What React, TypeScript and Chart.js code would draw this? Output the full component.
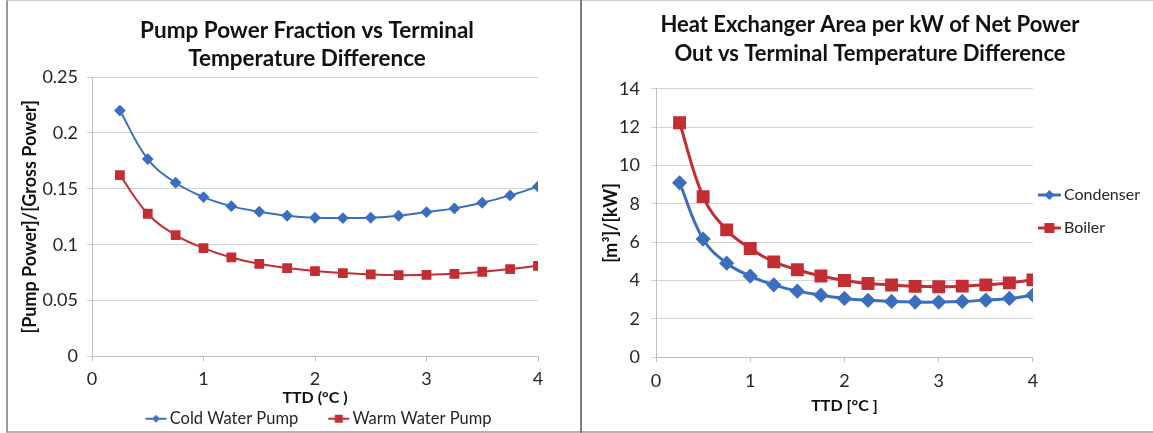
import React, { useEffect, useRef } from 'react';
import { Chart, registerables } from 'chart.js';

Chart.register(...registerables);

// ---- data ----
const ttd = [0.25, 0.5, 0.75, 1, 1.25, 1.5, 1.75, 2, 2.25, 2.5, 2.75, 3, 3.25, 3.5, 3.75, 4];
const coldWaterPump = [0.220, 0.1766, 0.1554, 0.1426, 0.1345, 0.1295, 0.1259, 0.1241, 0.1238, 0.1241, 0.1259, 0.1292, 0.1325, 0.1375, 0.1441, 0.1521];
const warmWaterPump = [0.1623, 0.1277, 0.1086, 0.0970, 0.0886, 0.0829, 0.0791, 0.0764, 0.0746, 0.0734, 0.0728, 0.0731, 0.0740, 0.0758, 0.0782, 0.0811];
const condenser = [9.10, 6.16, 4.90, 4.23, 3.77, 3.44, 3.23, 3.06, 2.96, 2.90, 2.87, 2.87, 2.90, 2.97, 3.06, 3.23];
const boiler = [12.24, 8.38, 6.64, 5.67, 4.97, 4.56, 4.23, 4.00, 3.84, 3.76, 3.69, 3.67, 3.70, 3.77, 3.87, 4.03];
const pumpYTickLabels = ['0', '0.05', '0.1', '0.15', '0.2', '0.25'];
const areaYTickLabels = ['0', '2', '4', '6', '8', '10', '12', '14'];
const xTickLabels = ['0', '1', '2', '3', '4'];

const BLUE = '#3C6EC0';
const RED = '#C32E32';
const FONT = 'Lato, Calibri, "Open Sans", sans-serif';
const TEXT = '#262626';

// shifts the title / legend boxes of a chart by a few pixels after layout
const shiftPlugin = {
  id: 'shift',
  afterLayout(chart: any, _args: any, opts: any) {
    const l = chart.legend;
    if (l) {
      l.left += opts.legendX || 0;
      l.right += opts.legendX || 0;
      l.top += opts.legendY || 0;
      l.bottom += opts.legendY || 0;
    }
    const t = chart.titleBlock;
    if (t) {
      t.left += opts.titleX || 0;
      t.right += opts.titleX || 0;
    }
  },
};

function makeIcon(color: string, shape: string, markerR: number, lineW: number, lineLen: number, bw: number, off: number) {
  const half = Math.max(off - bw / 2 + lineLen, bw / 2 - off) + 2;
  const W = Math.ceil(half * 2);
  const H = 16;
  const c = document.createElement('canvas');
  c.width = W;
  c.height = H;
  const ctx = c.getContext('2d')!;
  const start = W / 2 + off - bw / 2;
  const cy = H / 2;
  ctx.strokeStyle = color;
  ctx.lineWidth = lineW;
  ctx.beginPath();
  ctx.moveTo(start, cy);
  ctx.lineTo(start + lineLen, cy);
  ctx.stroke();
  ctx.fillStyle = color;
  const mx = start + lineLen / 2;
  ctx.beginPath();
  if (shape === 'diamond') {
    ctx.moveTo(mx, cy - markerR);
    ctx.lineTo(mx + markerR, cy);
    ctx.lineTo(mx, cy + markerR);
    ctx.lineTo(mx - markerR, cy);
    ctx.closePath();
  } else {
    ctx.rect(mx - markerR, cy - markerR, markerR * 2, markerR * 2);
  }
  ctx.fill();
  return c;
}

function series(values: number[]) {
  return ttd.map((x, i) => ({ x, y: values[i] }));
}

function baseScales(yMax: number, yStep: number, yLabels: string[], yTitle: string, xTitle: string, yWidth: number, yPad: number, yTitlePad: number, xHeight: number, xPad: number) {
  return {
    x: {
      type: 'linear' as const,
      min: 0,
      max: 4,
      afterFit: (s: any) => { s.height = xHeight; },
      ticks: {
        stepSize: 1,
        padding: xPad,
        color: TEXT,
        font: { family: FONT, size: 18, lineHeight: 1 },
        callback: (_v: any, i: number) => xTickLabels[i],
      },
      grid: { drawOnChartArea: false, drawTicks: true, tickLength: 5, color: '#bfbfbf' },
      border: { color: '#bfbfbf' },
      title: {
        display: true,
        text: xTitle,
        color: '#111',
        padding: { top: 0, bottom: 0 },
        font: { family: FONT, size: 16, weight: 'bold' as const, lineHeight: 1 },
      },
    },
    y: {
      min: 0,
      max: yMax,
      afterFit: (s: any) => { s.width = yWidth; },
      ticks: {
        stepSize: yStep,
        padding: yPad,
        color: TEXT,
        font: { family: FONT, size: 18, lineHeight: 1 },
        callback: (_v: any, i: number) => yLabels[i],
      },
      grid: { color: '#d4d4d4', tickLength: 5, lineWidth: 1 },
      border: { color: '#bfbfbf' },
      title: {
        display: true,
        text: yTitle,
        color: '#111',
        padding: { top: yTitlePad, bottom: 0 },
        font: { family: FONT, size: 18, weight: 'bold' as const, lineHeight: 1 },
      },
    },
  };
}

export default function App() {
  const leftRef = useRef<HTMLCanvasElement>(null);
  const rightRef = useRef<HTMLCanvasElement>(null);

  useEffect(() => {
    const leftIcons = [
      makeIcon(BLUE, 'diamond', 4, 2, 21, 41, 25),
      makeIcon(RED, 'square', 4, 2, 21, 41, 25),
    ];
    const rightIcons = [
      makeIcon(BLUE, 'diamond', 5, 3, 23, 6, -12),
      makeIcon(RED, 'square', 5, 3, 23, 6, -12),
    ];

    const left = new Chart(leftRef.current!, {
      type: 'line',
      plugins: [shiftPlugin],
      data: {
        datasets: [
          {
            label: 'Cold Water Pump',
            data: series(coldWaterPump),
            borderColor: BLUE,
            backgroundColor: BLUE,
            borderWidth: 2,
            tension: 0.4,
            pointStyle: 'rectRot',
            pointRadius: 4.5,
            pointBackgroundColor: BLUE,
            pointBorderColor: BLUE,
          },
          {
            label: 'Warm Water Pump',
            data: series(warmWaterPump),
            borderColor: RED,
            backgroundColor: RED,
            borderWidth: 2,
            tension: 0.4,
            pointStyle: 'rect',
            pointRadius: 5.5,
            pointBackgroundColor: RED,
            pointBorderColor: RED,
          },
        ],
      },
      options: {
        responsive: false,
        animation: false,
        devicePixelRatio: 1,
        layout: { padding: { left: 0, right: 42, top: 0, bottom: -6 } },
        plugins: {
          tooltip: { enabled: false },
          shift: { legendX: -9, legendY: 0, titleX: -8 },
          title: {
            display: true,
            fullSize: false,
            text: ['Pump Power Fraction vs Terminal', 'Temperature Difference'],
            color: '#111',
            font: { family: FONT, size: 22.5, weight: 'bold', lineHeight: 1.245 },
            padding: { top: 16, bottom: 4 },
          },
          legend: {
            display: true,
            position: 'bottom',
            fullSize: false,
            labels: {
              usePointStyle: true,
              boxWidth: 41,
              pointStyleWidth: 41,
              padding: 5,
              color: TEXT,
              font: { family: FONT, size: 16.5 },
              generateLabels: (chart: any) =>
                chart.data.datasets.map((ds: any, i: number) => ({
                  text: ds.label,
                  fillStyle: ds.backgroundColor,
                  strokeStyle: ds.borderColor,
                  lineWidth: 0,
                  hidden: false,
                  datasetIndex: i,
                  pointStyle: leftIcons[i],
                  fontColor: TEXT,
                })),
            },
          },
        } as any,
        scales: baseScales(0.25, 0.05, pumpYTickLabels, '[Pump Power]/[Gross Power]', 'TTD (°C )', 84, 9, 13, 49, 9) as any,
      },
    });

    const right = new Chart(rightRef.current!, {
      type: 'line',
      plugins: [shiftPlugin],
      data: {
        datasets: [
          {
            label: 'Condenser',
            data: series(condenser),
            borderColor: BLUE,
            backgroundColor: BLUE,
            borderWidth: 3,
            tension: 0.4,
            pointStyle: 'rectRot',
            pointRadius: 5.5,
            pointBackgroundColor: BLUE,
            pointBorderColor: BLUE,
          },
          {
            label: 'Boiler',
            data: series(boiler),
            borderColor: RED,
            backgroundColor: RED,
            borderWidth: 3,
            tension: 0.4,
            pointStyle: 'rect',
            pointRadius: 7,
            pointBackgroundColor: RED,
            pointBorderColor: RED,
          },
        ],
      },
      options: {
        responsive: false,
        animation: false,
        devicePixelRatio: 1,
        layout: { padding: { left: 0, right: 3, top: 0, bottom: 17 } },
        plugins: {
          tooltip: { enabled: false },
          shift: { legendX: 0, legendY: 4, titleX: 4 },
          title: {
            display: true,
            fullSize: true,
            text: ['Heat Exchanger Area per kW of Net Power', 'Out vs Terminal Temperature Difference'],
            color: '#111',
            font: { family: FONT, size: 22, weight: 'bold', lineHeight: 1.318 },
            padding: { top: 9, bottom: 21 },
          },
          legend: {
            display: true,
            position: 'right',
            labels: {
              usePointStyle: true,
              boxWidth: 6,
              padding: 17,
              color: TEXT,
              font: { family: FONT, size: 16 },
              generateLabels: (chart: any) =>
                chart.data.datasets.map((ds: any, i: number) => ({
                  text: ds.label,
                  fillStyle: ds.backgroundColor,
                  strokeStyle: ds.borderColor,
                  lineWidth: 0,
                  hidden: false,
                  datasetIndex: i,
                  pointStyle: rightIcons[i],
                  fontColor: TEXT,
                })),
            },
          },
        } as any,
        scales: baseScales(14, 2, areaYTickLabels, '[m³]/[kW]', 'TTD [°C ]', 74, 11, 20, 57, 10) as any,
      },
    });

    return () => {
      left.destroy();
      right.destroy();
    };
  }, []);

  return (
    <div style={{ position: 'absolute', left: 0, top: 0, width: 1153, height: 433, background: '#fff', overflow: 'hidden' }}>
      <div style={{ position: 'absolute', left: 6, top: 0, width: 1147, height: 430, borderLeft: '2px solid #9a9a9a', borderTop: '1px solid #cfcfcf', borderBottom: '2px solid #b5b5b5' }} />
      <div style={{ position: 'absolute', left: 580, top: 0, width: 2, height: 433, background: '#808080' }} />
      <canvas ref={leftRef} width={572} height={430} style={{ position: 'absolute', left: 8, top: 1, width: 572, height: 430 }} />
      <canvas ref={rightRef} width={571} height={430} style={{ position: 'absolute', left: 582, top: 1, width: 571, height: 430 }} />
    </div>
  );
}
